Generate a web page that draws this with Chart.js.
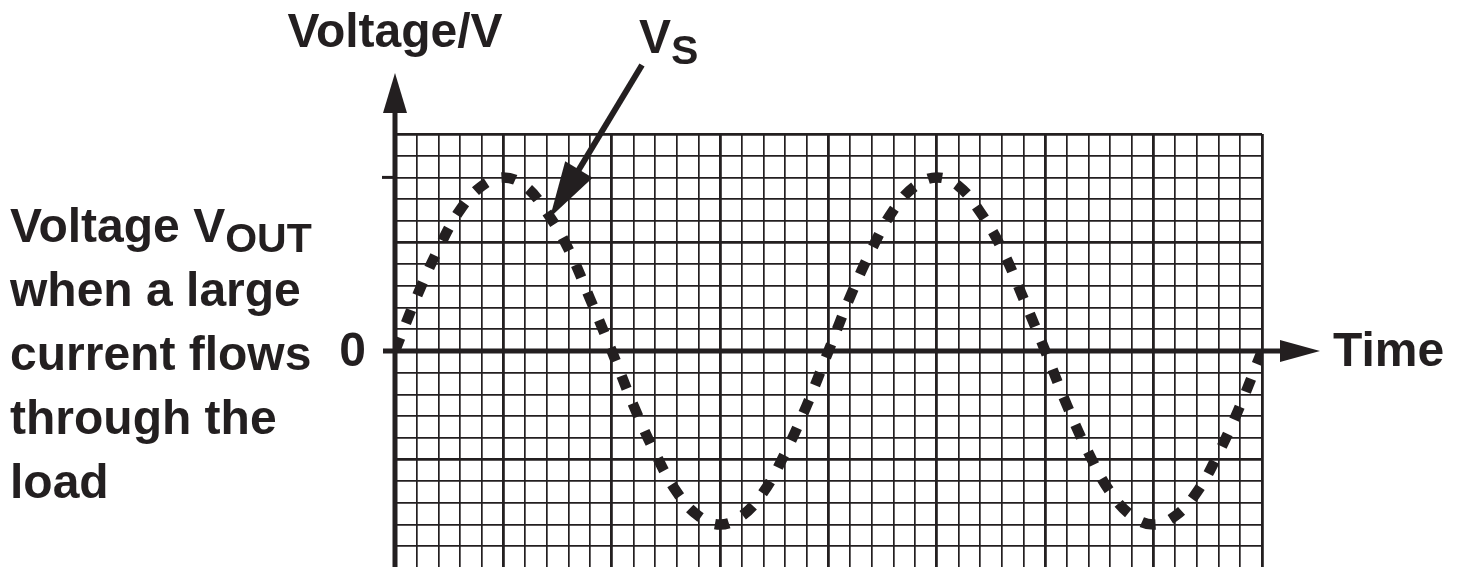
<!DOCTYPE html>
<html>
<head>
<meta charset="utf-8">
<title>Voltage VOUT when a large current flows through the load</title>
<script src="https://cdn.jsdelivr.net/npm/chart.js@4.4.1/dist/chart.umd.min.js"></script>
<style>
html, body { margin: 0; padding: 0; background: #fff; overflow: hidden; }
#wrap { width: 1462px; height: 570px; }
</style>
</head>
<body>
<div id="wrap"><canvas id="vout_chart" width="1462" height="570"></canvas></div>
<script>
// grid squares along the time axis, and the trace read at each one (in squares)
var time_cells = [0, 1, 2, 3, 4, 5, 6, 7, 8, 9, 10,
                  11, 12, 13, 14, 15, 16, 17, 18, 19, 20,
                  21, 22, 23, 24, 25, 26, 27, 28, 29, 30,
                  31, 32, 33, 34, 35, 36, 37, 38, 39, 40];
var vout = [0, 2.5, 4.7, 6.5, 7.6, 8, 7.6, 6.4, 4.7, 2.4, 0,
            -2.5, -4.7, -6.5, -7.6, -8, -7.6, -6.5, -4.7, -2.5, 0,
            2.5, 4.7, 6.5, 7.6, 8, 7.6, 6.4, 4.7, 2.4, 0,
            -2.5, -4.7, -6.5, -7.6, -8, -7.6, -6.5, -4.7, -2.5, 0];
var time_range = [0, 40];
var volt_range = [-10, 10];
var peak_tick = 8;

var ink = '#231f20';
var font_family = '"Liberation Sans", Arial, Helvetica, sans-serif';

var points = [];
for (var i = 0; i < time_cells.length; i++) {
    points.push({ x: time_cells[i], y: vout[i] });
}

function gridWidth(ctx) {
    var v = ctx.tick.value;
    if (v % 5 === 0) return 2.8;
    return 1.7;
}

function arrowHead(ctx, tipX, tipY, baseX, baseY, halfWidth) {
    var dx = tipX - baseX, dy = tipY - baseY;
    var len = Math.sqrt(dx * dx + dy * dy);
    var nx = -dy / len, ny = dx / len;
    ctx.beginPath();
    ctx.moveTo(tipX, tipY);
    ctx.lineTo(baseX + nx * halfWidth, baseY + ny * halfWidth);
    ctx.lineTo(baseX - nx * halfWidth, baseY - ny * halfWidth);
    ctx.closePath();
    ctx.fill();
}

var axesAndNotes = {
    id: 'axesAndNotes',
    beforeDatasetsDraw: function (chart) {
        var ctx = chart.ctx;
        var xs = chart.scales.x, ys = chart.scales.y;
        var x0 = xs.getPixelForValue(0), y0 = ys.getPixelForValue(0);
        ctx.save();
        ctx.strokeStyle = ink;
        ctx.fillStyle = ink;
        ctx.lineCap = 'butt';

        // time axis with arrow
        ctx.lineWidth = 5;
        ctx.beginPath();
        ctx.moveTo(x0 - 12, y0);
        ctx.lineTo(xs.right + 20, y0);
        ctx.stroke();
        arrowHead(ctx, xs.right + 58, y0, xs.right + 18, y0, 11);

        // voltage axis with arrow
        ctx.lineWidth = 5;
        ctx.beginPath();
        ctx.moveTo(x0, chart.height + 5);
        ctx.lineTo(x0, ys.top - 23);
        ctx.stroke();
        arrowHead(ctx, x0, ys.top - 61, x0, ys.top - 21, 12);

        // tick at the peak voltage
        var yp = ys.getPixelForValue(peak_tick);
        ctx.lineWidth = 3;
        ctx.beginPath();
        ctx.moveTo(x0 - 13, yp);
        ctx.lineTo(x0, yp);
        ctx.stroke();
        ctx.restore();
    },
    afterDraw: function (chart) {
        var ctx = chart.ctx;
        var xs = chart.scales.x, ys = chart.scales.y;
        var x0 = xs.getPixelForValue(0), y0 = ys.getPixelForValue(0);
        ctx.save();
        ctx.fillStyle = ink;
        ctx.strokeStyle = ink;
        var big = 'bold 48px ' + font_family;
        var sub = 'bold 41px ' + font_family;

        ctx.font = big;
        ctx.textBaseline = 'alphabetic';
        ctx.textAlign = 'center';
        ctx.fillText('Voltage/V', x0, 47);

        ctx.textAlign = 'left';
        ctx.textBaseline = 'middle';
        ctx.fillText('Time', xs.right + 71, y0 + 2);
        ctx.textAlign = 'right';
        ctx.fillText('0', x0 - 29, y0 + 2);

        // V_S label and its pointer onto the trace
        ctx.textAlign = 'left';
        ctx.textBaseline = 'alphabetic';
        ctx.font = big;
        ctx.fillText('V', 639, 53);
        var vw = ctx.measureText('V').width;
        ctx.font = sub;
        ctx.fillText('S', 639 + vw, 64);

        var tipX = xs.getPixelForValue(7.15), tipY = ys.getPixelForValue(6.15);
        var startX = 642, startY = 65;
        var dx = tipX - startX, dy = tipY - startY;
        var len = Math.sqrt(dx * dx + dy * dy);
        var bx = tipX - dx / len * 56, by = tipY - dy / len * 56;
        ctx.lineWidth = 6;
        ctx.beginPath();
        ctx.moveTo(startX, startY);
        ctx.lineTo(bx + dx / len * 4, by + dy / len * 4);
        ctx.stroke();
        arrowHead(ctx, tipX, tipY, bx, by, 16);

        // caption on the left
        ctx.font = big;
        ctx.fillText('Voltage V', 10, 242);
        var w1 = ctx.measureText('Voltage V').width;
        ctx.font = sub;
        ctx.fillText('OUT', 10 + w1, 252);
        ctx.font = big;
        var lines = ['when a large', 'current flows', 'through the', 'load'];
        for (var i = 0; i < lines.length; i++) {
            ctx.fillText(lines[i], 10, 306 + i * 64);
        }
        ctx.restore();
    }
};

var chart = new Chart(document.getElementById('vout_chart').getContext('2d'), {
    type: 'line',
    data: {
        datasets: [{
            label: 'VOUT',
            data: points,
            borderColor: ink,
            borderWidth: 10.5,
            borderDash: [14, 16],
            borderCapStyle: 'butt',
            pointRadius: 0,
            tension: 0.4,
            fill: false
        }]
    },
    options: {
        responsive: false,
        animation: false,
        devicePixelRatio: 1,
        layout: { padding: { left: 395, right: 200, top: 134, bottom: 2 } },
        plugins: { legend: { display: false }, tooltip: { enabled: false } },
        scales: {
            x: {
                type: 'linear',
                min: time_range[0],
                max: time_range[1],
                ticks: { display: false, stepSize: 1, maxTicksLimit: 100, autoSkip: false },
                grid: { color: ink, lineWidth: gridWidth, drawTicks: false },
                border: { display: false }
            },
            y: {
                type: 'linear',
                min: volt_range[0],
                max: volt_range[1],
                ticks: { display: false, stepSize: 1, maxTicksLimit: 100, autoSkip: false },
                grid: { color: ink, lineWidth: gridWidth, drawTicks: false },
                border: { display: false }
            }
        }
    },
    plugins: [axesAndNotes]
});
</script>
</body>
</html>
